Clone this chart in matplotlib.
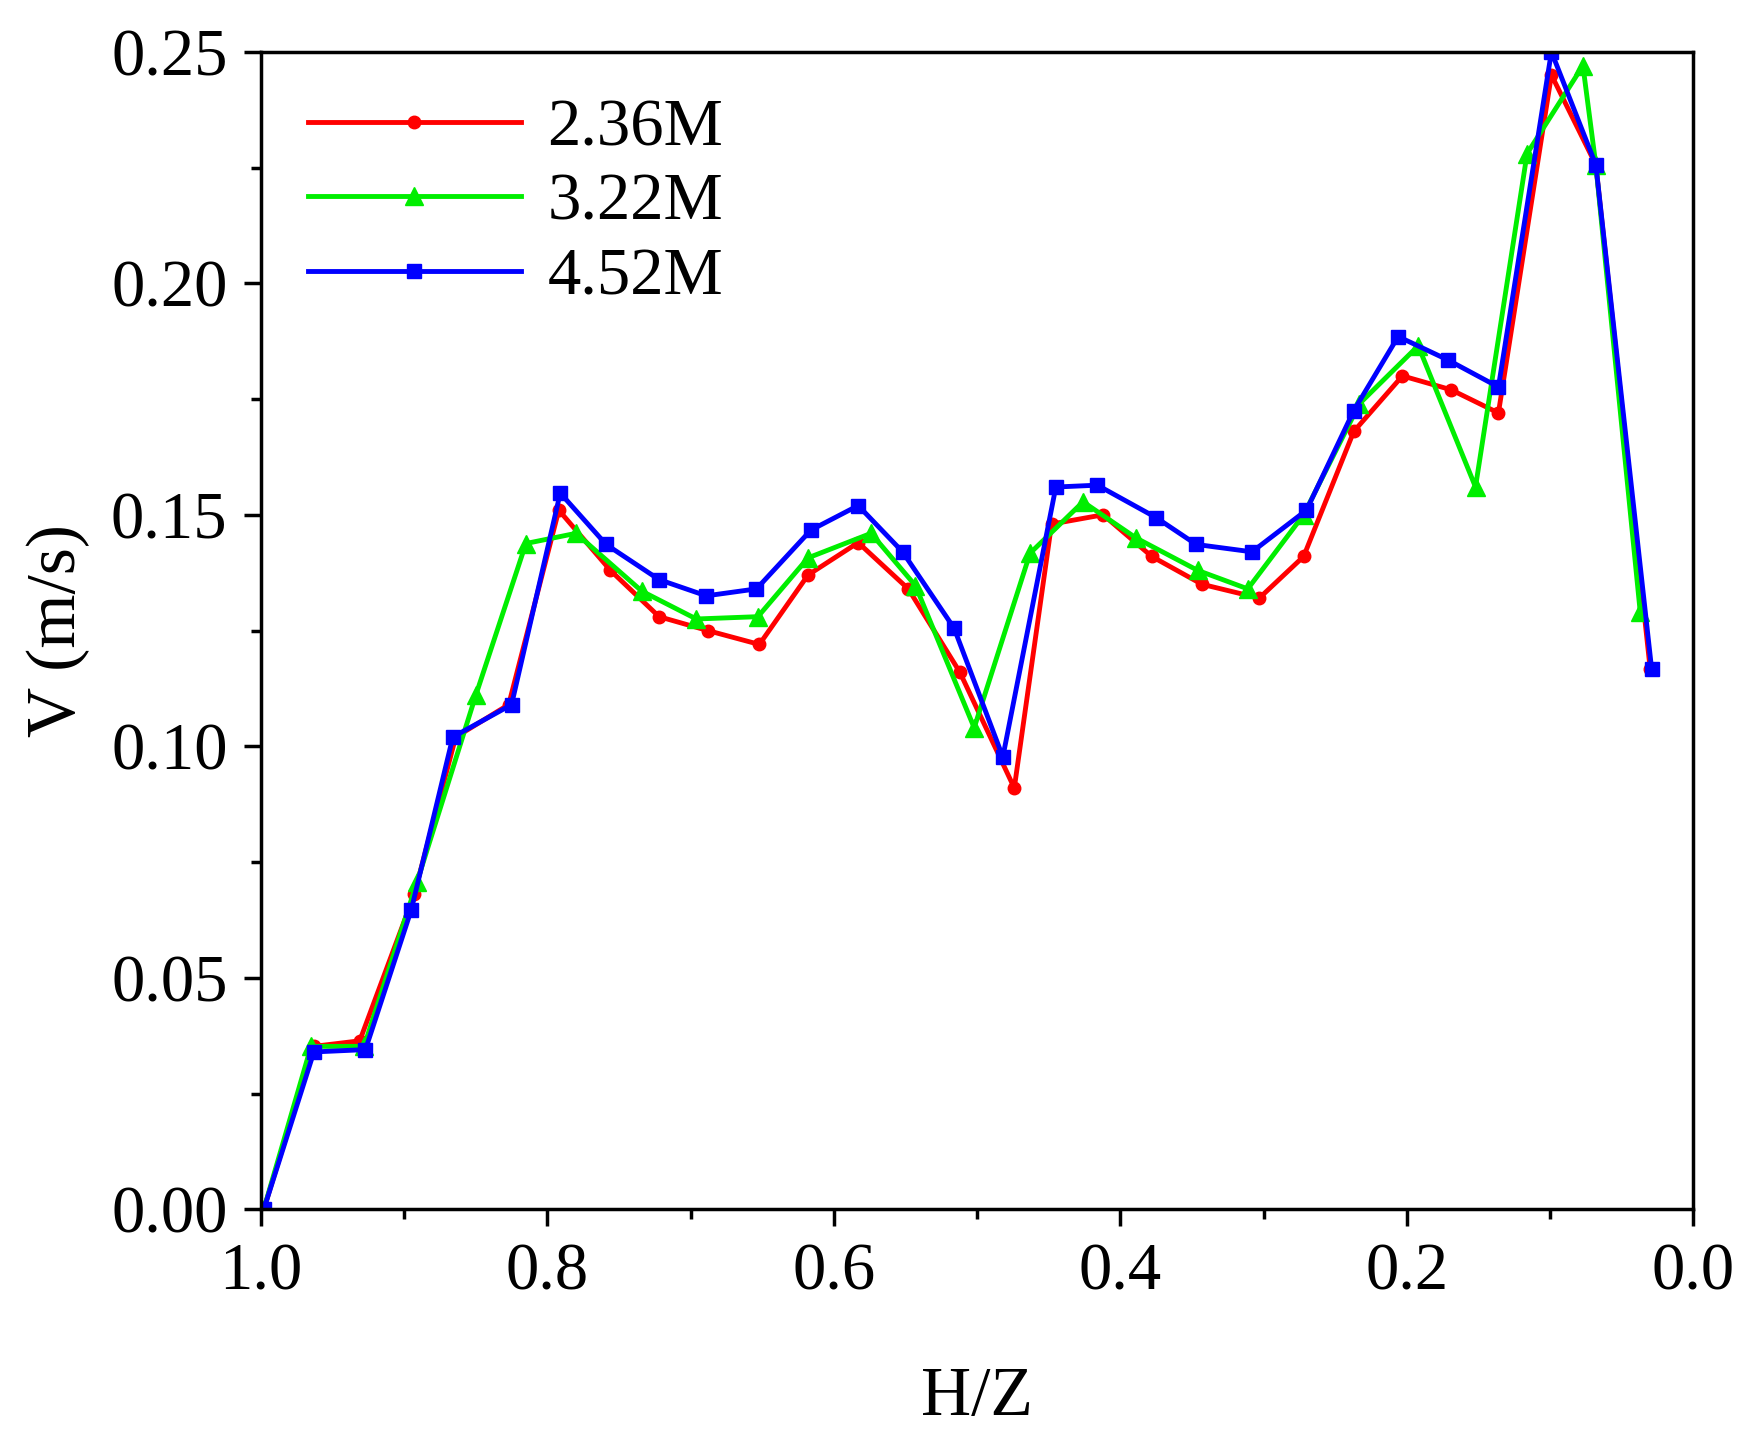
import numpy as np
from matplotlib import pyplot as plt
from matplotlib.ticker import MultipleLocator

plt.rcParams['font.family'] = ['Liberation Serif', 'DejaVu Serif']

# 数据
x_red = [0.998, 0.963, 0.931, 0.893, 0.864, 0.827, 0.792, 0.756, 0.722, 0.688,
         0.652, 0.618, 0.583, 0.548, 0.512, 0.474, 0.448, 0.412, 0.378, 0.343,
         0.303, 0.272, 0.237, 0.203, 0.169, 0.136, 0.099, 0.068, 0.030]
v_red = [0.0, 0.0352, 0.0364, 0.068, 0.102, 0.109, 0.151, 0.138, 0.128, 0.125,
         0.122, 0.137, 0.144, 0.134, 0.116, 0.091, 0.148, 0.150, 0.141, 0.135,
         0.132, 0.141, 0.168, 0.180, 0.177, 0.172, 0.245, 0.2256, 0.1166]

x_green = [0.998, 0.965, 0.928, 0.891, 0.850, 0.815, 0.780, 0.734, 0.696, 0.653,
           0.618, 0.574, 0.543, 0.502, 0.463, 0.426, 0.389, 0.346, 0.311, 0.272,
           0.233, 0.192, 0.152, 0.116, 0.077, 0.068, 0.037]
v_green = [0.0, 0.0352, 0.0352, 0.0707, 0.111, 0.1438, 0.146, 0.1335, 0.1275, 0.128,
           0.1407, 0.146, 0.1347, 0.104, 0.1417, 0.1528, 0.145, 0.138, 0.134, 0.150,
           0.174, 0.1865, 0.156, 0.228, 0.247, 0.2256, 0.129]

x_blue = [0.998, 0.963, 0.927, 0.895, 0.866, 0.825, 0.791, 0.759, 0.722, 0.689,
          0.654, 0.616, 0.583, 0.552, 0.516, 0.482, 0.445, 0.416, 0.375, 0.347,
          0.308, 0.270, 0.237, 0.206, 0.171, 0.136, 0.099, 0.068, 0.029]
v_blue = [0.0, 0.034, 0.0345, 0.0647, 0.102, 0.109, 0.1547, 0.1436, 0.136, 0.1325,
          0.134, 0.1467, 0.152, 0.142, 0.1255, 0.0977, 0.156, 0.1564, 0.1494, 0.1436,
          0.142, 0.151, 0.1725, 0.1885, 0.1834, 0.1776, 0.250, 0.2256, 0.1166]

fig = plt.figure(figsize=(17.51, 14.38), dpi=100)
ax = fig.add_axes([0.149, 0.159, 0.818, 0.805])

ax.plot(x_red, v_red, color='#ff0000', marker='o', markersize=9, lw=3.5, label='2.36M')
ax.plot(x_green, v_green, color='#00ee00', marker='^', markersize=13, lw=3.5, label='3.22M')
ax.plot(x_blue, v_blue, color='#0000ff', marker='s', markersize=10, lw=3.5, label='4.52M')

ax.set_xlim(1.0, 0.0)
ax.set_ylim(0.0, 0.25)
ax.xaxis.set_major_locator(MultipleLocator(0.2))
ax.xaxis.set_minor_locator(MultipleLocator(0.1))
ax.yaxis.set_major_locator(MultipleLocator(0.05))
ax.yaxis.set_minor_locator(MultipleLocator(0.025))
ax.set_yticklabels([f'{v:.2f}' for v in ax.get_yticks()])
ax.set_xticklabels([f'{v:.1f}' for v in ax.get_xticks()])
ax.tick_params(which='major', direction='out', length=12, width=2.5, labelsize=48, pad=12)
ax.tick_params(which='minor', direction='out', length=7, width=2.5)
for s in ax.spines.values():
    s.set_linewidth(2.5)

ax.set_xlabel('H/Z', fontsize=50, labelpad=45)
ax.set_ylabel('V (m/s)', fontsize=50, labelpad=15)

ax.legend(loc='upper left', fontsize=48, frameon=False, handlelength=3.2,
          borderaxespad=0.3, labelspacing=0.2, handletextpad=0.4)

fig.savefig('out.png', dpi=100, facecolor='white')
